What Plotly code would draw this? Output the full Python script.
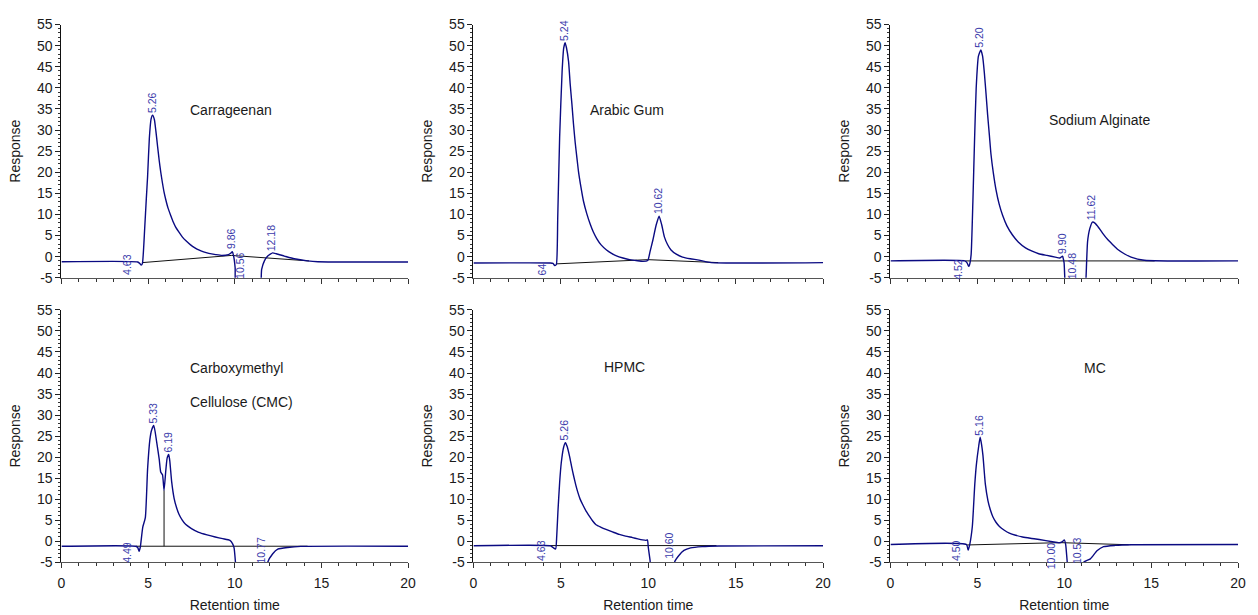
import numpy as np
import plotly.graph_objects as go

# ---- chromatogram traces (retention time in min, detector response) ----
carr_t = [0, 4.40, 4.52, 4.60, 4.67, 4.80, 4.90, 4.97, 5.07, 5.17, 5.26, 5.36, 5.45, 5.55, 5.64, 5.73,
          5.83, 5.92, 6.02, 6.15, 6.31, 6.45, 6.59, 6.78, 6.97, 7.20, 7.45, 7.70, 7.92, 8.20, 8.50,
          8.90, 9.26, 9.64, 9.76, 9.86, 9.94, 10.02, 10.10, 11.43, 11.55, 11.71, 11.90, 12.05, 12.18,
          12.40, 12.86, 13.43, 14.19, 14.80, 20]
carr_r = [-1.2, -1.25, -1.6, -2.0, -1.6, 6.5, 14.0, 19.0, 28.0, 32.6, 33.5, 32.5, 29.7, 26.0, 22.8, 20.0,
          17.4, 15.3, 13.5, 11.5, 9.7, 8.2, 7.0, 5.8, 4.7, 3.7, 2.8, 2.1, 1.6, 1.15, 0.8,
          0.5, 0.3, 0.5, 0.8, 1.2, 0.0, -2.6, -8, -8, -3.0, -1.0, 0.15, 0.6, 0.9,
          0.7, 0.15, -0.5, -1.0, -1.2, -1.25]

gum_t = [0, 4.40, 4.55, 4.65, 4.74, 4.82, 4.93, 5.07, 5.16, 5.24, 5.32, 5.44, 5.53, 5.63, 5.72, 5.82,
         5.92, 6.01, 6.15, 6.29, 6.48, 6.67, 6.85, 7.05, 7.30, 7.61, 7.90, 8.18, 8.55, 8.93, 9.30,
         9.69, 9.97, 10.10, 10.26, 10.45, 10.62, 10.77, 10.92, 11.10, 11.30, 11.60, 11.96, 12.40,
         12.90, 13.60, 20]
gum_r = [-1.5, -1.5, -1.6, -2.1, -1.85, 9.3, 28.5, 43.9, 49.4, 50.7, 49.5, 46.2, 41.0, 36.2, 31.5, 27.0,
         23.3, 20.1, 16.4, 13.2, 10.2, 7.8, 5.9, 4.3, 2.8, 1.6, 0.8, 0.2, -0.3, -0.7, -0.9,
         -1.1, -0.9, 1.2, 3.9, 7.5, 9.6, 7.5, 4.7, 2.9, 1.6, 0.6, -0.1, -0.5,
         -0.8, -1.4, -1.4]

alg_t = [0, 4.27, 4.40, 4.50, 4.55, 4.64, 4.74, 4.84, 4.93, 5.06, 5.20, 5.30, 5.40, 5.50, 5.59, 5.69,
         5.78, 5.92, 6.07, 6.25, 6.45, 6.70, 7.01, 7.35, 7.77, 8.15, 8.53, 9.00, 9.48, 9.75, 9.90,
         9.95, 9.99, 10.03, 10.10, 11.20, 11.25, 11.34, 11.47, 11.62, 11.78, 11.94, 12.20, 12.51,
         12.80, 13.08, 13.45, 13.84, 14.60, 20]
alg_r = [-1.0, -1.0, -1.4, -2.3, -1.9, 0.5, 12.8, 28.0, 39.8, 47.5, 49.0, 47.5, 43.6, 38.5, 33.6, 28.8,
         24.4, 19.8, 15.9, 12.5, 9.8, 7.3, 5.2, 3.5, 2.1, 1.3, 0.7, 0.3, -0.1, -0.3, 0.1,
         -0.6, -1.5, -5.0, -8, -8, -5.0, 3.6, 6.7, 8.2, 7.9, 7.1, 5.6, 4.0,
         2.8, 1.7, 0.7, -0.1, -0.85, -1.0]

cmc_t = [0, 4.29, 4.40, 4.48, 4.55, 4.69, 4.84, 4.97, 5.10, 5.20, 5.33, 5.49, 5.64, 5.73, 5.83, 5.92,
         6.02, 6.10, 6.19, 6.25, 6.36, 6.50, 6.64, 6.78, 6.97, 7.16, 7.50, 7.92, 8.40, 8.87, 9.30,
         9.72, 9.87, 9.96, 10.04, 10.10, 11.80, 11.90, 12.19, 12.48, 13.05, 13.81, 20]
cmc_r = [-1.2, -1.2, -1.5, -2.4, -1.4, 3.3, 5.6, 17.2, 24.1, 26.4, 27.5, 23.7, 19.5, 16.4, 15.8, 12.1,
         16.8, 19.8, 20.6, 19.1, 14.1, 10.2, 8.0, 6.4, 5.0, 4.0, 3.0, 2.1, 1.5, 1.0, 0.6,
         0.2, -0.6, -1.6, -5.0, -8, -8, -5.0, -3.0, -1.9, -1.5, -1.24, -1.2]

hpmc_t = [0, 4.40, 4.55, 4.70, 4.76, 4.83, 4.93, 5.02, 5.16, 5.26, 5.36, 5.50, 5.62, 5.73, 5.85, 5.97,
          6.10, 6.26, 6.45, 6.64, 6.82, 7.01, 7.30, 7.58, 7.95, 8.34, 8.70, 9.10, 9.40, 9.67, 9.86,
          9.95, 10.00, 10.10, 10.20, 11.45, 11.50, 11.75, 12.04, 12.42, 13.08, 14.03, 20]
hpmc_r = [-1.1, -1.1, -1.5, -1.85, 1.0, 7.0, 14.0, 18.6, 22.4, 23.4, 22.5, 20.1, 17.6, 15.5, 13.4, 11.6,
          10.0, 8.6, 7.1, 5.9, 4.8, 3.9, 3.3, 2.8, 2.2, 1.6, 1.2, 0.85, 0.55, 0.3, 0.2,
          0.3, -1.5, -4.5, -8, -8, -5.0, -3.4, -2.2, -1.6, -1.3, -1.15, -1.1]

mc_t = [0, 4.37, 4.47, 4.56, 4.71, 4.85, 4.94, 5.08, 5.16, 5.24, 5.32, 5.46, 5.61, 5.75, 5.89, 6.07,
        6.27, 6.55, 6.84, 7.20, 7.60, 8.05, 8.56, 9.32, 9.70, 9.90, 10.00, 10.08, 10.17, 10.25, 11.05,
        11.12, 11.50, 11.88, 12.26, 12.93, 13.88, 20]
mc_r = [-0.8, -0.8, -2.1, -0.8, 3.5, 13.5, 18.1, 22.7, 24.7, 23.0, 20.4, 13.5, 9.6, 7.4, 5.8, 4.5,
        3.5, 2.6, 1.9, 1.4, 1.0, 0.7, 0.4, -0.15, -0.4, -0.1, 0.3, -0.8, -5.0, -8, -8,
        -5.0, -4.2, -2.3, -1.3, -1.0, -0.85, -0.8]

# ---- integration baselines drawn under each peak ----
carr_base_t, carr_base_r = [4.67, 9.80, 14.28], [-1.4, 0.3, -1.0]
gum_base_t, gum_base_r = [4.74, 9.97, 14.0], [-1.7, -0.7, -1.4]
alg_base_t, alg_base_r = [4.30, 15.2], [-1.0, -1.0]
cmc_base_t, cmc_base_r = [4.30, 14.2], [-1.2, -1.2]
cmc_drop_t, cmc_drop_r = [5.92, 5.92], [-1.2, 12.1]
hpmc_base_t, hpmc_base_r = [4.40, 13.9], [-1.05, -1.05]
mc_base_t, mc_base_r = [4.40, 9.80, 13.7], [-0.9, -0.35, -0.85]

# ---- apex retention times (labelled above the peaks) ----
carr_apex = [5.26, 9.86, 12.18]
gum_apex = [5.24, 10.62]
alg_apex = [5.20, 9.90, 11.62]
cmc_apex = [5.33, 6.19]
hpmc_apex = [5.26]
mc_apex = [5.16]

# ---- start / end retention times labelled near the baseline: (text, x, y) ----
carr_marks = [("4.63", 3.82, -1.8), ("10.56", 10.30, -2.2)]
gum_marks = [("64", 3.90, -3.1)]
alg_marks = [("4.52", 3.88, -2.9), ("10.48", 10.46, -2.2)]
cmc_marks = [("4.49", 3.76, -2.6), ("10.77", 11.52, -2.2)]
hpmc_marks = [("4.63", 3.89, -2.2), ("10.60", 11.22, -1.2)]
mc_marks = [("4.50", 3.77, -2.1), ("10.00", 9.23, -3.6), ("10.53", 10.74, -2.3)]

titles = [("Carrageenan", 7.3, 34.8), ("Arabic Gum", 6.55, 34.8), ("Sodium Alginate", 9.0, 32.5),
          ("Carboxymethyl", 7.3, 41.1), ("HPMC", 7.36, 41.5), ("MC", 11.0, 41.1)]

x_ticks = [0, 5, 10, 15, 20]
y_ticks = list(range(-5, 56, 5))

panels = [
    (carr_t, carr_r, [(carr_base_t, carr_base_r)], carr_apex, carr_marks),
    (gum_t, gum_r, [(gum_base_t, gum_base_r)], gum_apex, gum_marks),
    (alg_t, alg_r, [(alg_base_t, alg_base_r)], alg_apex, alg_marks),
    (cmc_t, cmc_r, [(cmc_base_t, cmc_base_r), (cmc_drop_t, cmc_drop_r)], cmc_apex, cmc_marks),
    (hpmc_t, hpmc_r, [(hpmc_base_t, hpmc_base_r)], hpmc_apex, hpmc_marks),
    (mc_t, mc_r, [(mc_base_t, mc_base_r)], mc_apex, mc_marks),
]

W, H = 1258, 615
col_px = [(58, 408), (474, 827), (895, 1246)]
row_px = [(17, 277), (310, 569)]

FONT = "Liberation Sans, Arial, sans-serif"
TRACE = "#0a0a82"
LABEL = "#3b3bab"
INK = "#1a1a1a"

fig = go.Figure()
annotations = []

for i, (t, r, bases, apex, marks) in enumerate(panels):
    row, col = divmod(i, 3)
    n = "" if i == 0 else str(i + 1)
    xa, ya = "x" + n, "y" + n

    for bt, br in bases:
        fig.add_trace(go.Scatter(x=bt, y=br, mode="lines", xaxis=xa, yaxis=ya,
                                 line=dict(color="#111111", width=1), hoverinfo="skip"))
    fig.add_trace(go.Scatter(x=t, y=r, mode="lines", xaxis=xa, yaxis=ya,
                             line=dict(color=TRACE, width=1.4, shape="spline", smoothing=0.5)))

    for rt in apex:
        txt = f"{rt:.2f}"
        top = float(np.interp(rt, t, r))
        annotations.append(dict(x=rt - 0.07, y=top + 0.8 + 0.55 * len(txt), xref=xa, yref=ya,
                                text=txt, showarrow=False, textangle=-90,
                                xanchor="center", yanchor="middle",
                                font=dict(family=FONT, size=10.5, color=LABEL)))
    for txt, lx, ly in marks:
        annotations.append(dict(x=lx, y=ly, xref=xa, yref=ya, text=txt, showarrow=False,
                                textangle=-90, xanchor="center", yanchor="middle",
                                font=dict(family=FONT, size=10.5, color=LABEL)))

    name, tx, ty = titles[i]
    annotations.append(dict(x=tx, y=ty, xref=xa, yref=ya, text=name, showarrow=False,
                            xanchor="left", yanchor="middle",
                            font=dict(family=FONT, size=14, color=INK)))
    if i == 3:
        annotations.append(dict(x=tx, y=33.0, xref=xa, yref=ya, text="Cellulose (CMC)",
                                showarrow=False, xanchor="left", yanchor="middle",
                                font=dict(family=FONT, size=14, color=INK)))

    x0, x1 = col_px[col]
    y0, y1 = row_px[row]
    bottom = row == 1
    fig.layout["xaxis" + n] = dict(
        domain=[x0 / W, x1 / W], anchor=ya, range=[0, 20],
        tickvals=x_ticks, ticktext=[str(v) for v in x_ticks],
        ticks="outside", ticklen=5, tickcolor="#333",
        minor=dict(dtick=1, ticks="outside", ticklen=3, tickcolor="#333"),
        showline=True, linecolor="#555555", linewidth=1.2,
        showgrid=False, zeroline=False, showticklabels=bottom, ticklabelstandoff=3,
        tickfont=dict(family=FONT, size=14, color=INK),
        title=dict(text="Retention time" if bottom else "", standoff=10,
                   font=dict(family=FONT, size=14, color=INK)),
    )
    fig.layout["yaxis" + n] = dict(
        domain=[1 - y1 / H, 1 - y0 / H], anchor=xa, range=[-5, 55],
        tickvals=y_ticks, ticktext=[str(v) for v in y_ticks],
        ticks="outside", ticklen=5, tickcolor="#222",
        minor=dict(dtick=1, ticks="outside", ticklen=2.5, tickcolor="#333"),
        showline=True, linecolor="#111111", linewidth=1,
        showgrid=False, zeroline=False,
        tickfont=dict(family=FONT, size=14, color=INK),
        title=dict(text="Response", standoff=13, font=dict(family=FONT, size=14, color=INK)),
    )

fig.update_layout(
    width=W, height=H, margin=dict(l=0, r=0, t=0, b=0),
    paper_bgcolor="white", plot_bgcolor="rgba(0,0,0,0)",
    showlegend=False, annotations=annotations,
)

fig.write_html("out.html")
